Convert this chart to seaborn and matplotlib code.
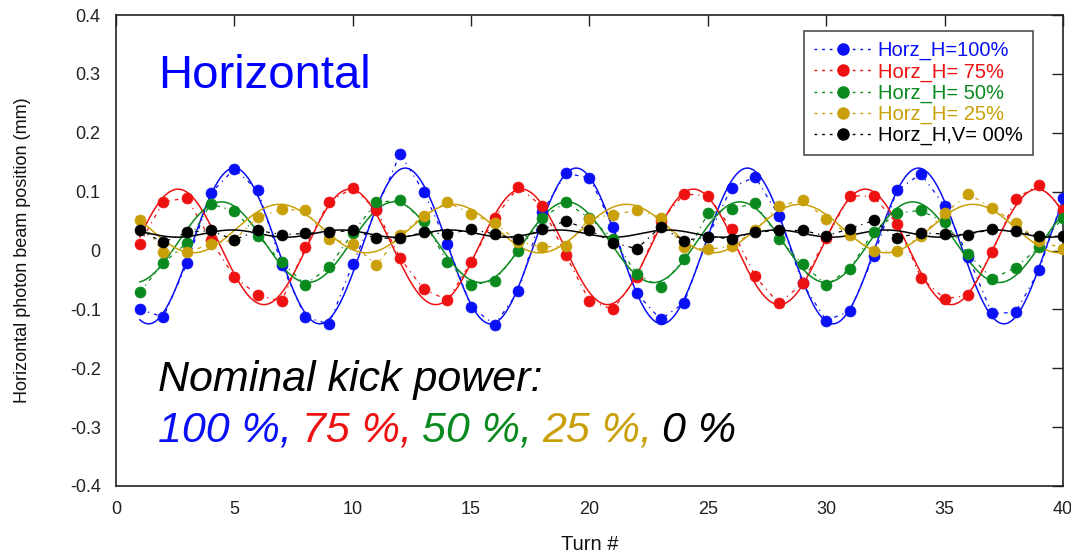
import numpy as np
import pandas as pd
import matplotlib
matplotlib.use("Agg")
import matplotlib.pyplot as plt
from matplotlib.lines import Line2D
import seaborn as sns

# Turn numbers and measured beam positions (mm) for each kick power
turns = list(range(1, 41))

horz_100 = [-0.100, -0.113, -0.022, 0.097, 0.139, 0.102, -0.025, -0.113, -0.125, -0.023,
            0.070, 0.164, 0.100, 0.011, -0.096, -0.126, -0.069, 0.065, 0.131, 0.124,
            0.040, -0.073, -0.117, -0.089, 0.023, 0.107, 0.125, 0.059, -0.056, -0.119,
            -0.103, -0.010, 0.103, 0.130, 0.076, -0.011, -0.107, -0.105, -0.033, 0.090]

horz_75 = [0.011, 0.083, 0.089, 0.018, -0.045, -0.076, -0.086, 0.006, 0.083, 0.106,
           0.069, -0.013, -0.066, -0.084, -0.020, 0.056, 0.108, 0.075, -0.008, -0.086,
           -0.100, -0.045, 0.050, 0.096, 0.093, 0.037, -0.044, -0.090, -0.056, 0.022,
           0.093, 0.092, 0.045, -0.046, -0.082, -0.076, -0.003, 0.088, 0.112, 0.069]

horz_50 = [-0.071, -0.021, 0.013, 0.079, 0.067, 0.025, -0.020, -0.058, -0.028, 0.030,
           0.082, 0.085, 0.050, -0.020, -0.059, -0.051, 0.000, 0.055, 0.082, 0.055,
           0.020, -0.040, -0.062, -0.014, 0.063, 0.071, 0.080, 0.020, -0.023, -0.058,
           -0.031, 0.032, 0.064, 0.068, 0.048, -0.006, -0.048, -0.029, 0.006, 0.056]

horz_25 = [0.052, -0.003, -0.003, 0.011, 0.018, 0.057, 0.070, 0.068, 0.020, 0.011,
           -0.025, 0.027, 0.059, 0.082, 0.062, 0.046, 0.015, 0.006, 0.008, 0.054,
           0.061, 0.068, 0.056, 0.006, 0.002, 0.007, 0.035, 0.076, 0.085, 0.054,
           0.026, -0.001, -0.001, 0.025, 0.063, 0.096, 0.073, 0.046, 0.017, 0.003]

horz_00 = [0.034, 0.014, 0.031, 0.034, 0.018, 0.034, 0.027, 0.029, 0.031, 0.034,
           0.021, 0.021, 0.031, 0.028, 0.036, 0.028, 0.019, 0.036, 0.050, 0.035,
           0.013, 0.003, 0.040, 0.017, 0.023, 0.020, 0.031, 0.034, 0.034, 0.025,
           0.037, 0.051, 0.022, 0.030, 0.028, 0.027, 0.036, 0.033, 0.025, 0.024]

series_labels = ["Horz_H=100%", "Horz_H= 75%", "Horz_H= 50%", "Horz_H= 25%", "Horz_H,V= 00%"]
series_values = [horz_100, horz_75, horz_50, horz_25, horz_00]
series_colors = ["#0a10f5", "#ee1111", "#0a8a1e", "#c9a00a", "#000000"]

power_labels = ["100 %,", "75 %,", "50 %,", "25 %,", "0 %"]

x_ticks = [0, 5, 10, 15, 20, 25, 30, 35, 40]
y_ticks = [-0.4, -0.3, -0.2, -0.1, 0, 0.1, 0.2, 0.3, 0.4]


def sine_fit(x, y, x_eval):
    """Least-squares fit of offset + A sin(2 pi q x) + B cos(2 pi q x)."""
    x = np.asarray(x, float)
    y = np.asarray(y, float)
    best = None
    for q in np.linspace(0.02, 0.5, 2401):
        M = np.column_stack([np.ones_like(x), np.sin(2 * np.pi * q * x), np.cos(2 * np.pi * q * x)])
        coef, *_ = np.linalg.lstsq(M, y, rcond=None)
        r = np.sum((M @ coef - y) ** 2)
        if best is None or r < best[0]:
            best = (r, q, coef)
    _, q, c = best
    return c[0] + c[1] * np.sin(2 * np.pi * q * x_eval) + c[2] * np.cos(2 * np.pi * q * x_eval)


sns.set_theme(style="white")
plt.rcParams["font.family"] = ["Liberation Sans", "DejaVu Sans"]

fig = plt.figure(figsize=(10.71, 5.57), dpi=100)
ax = fig.add_axes([0.1083, 0.1275, 0.8842, 0.8455])

x_fine = np.linspace(1, 40, 800)
handles = []
for label, vals, col in zip(series_labels, series_values, series_colors):
    df = pd.DataFrame({"turn": turns, "pos": vals})
    # fitted oscillation
    fit_df = pd.DataFrame({"turn": x_fine, "pos": sine_fit(turns, vals, x_fine)})
    sns.lineplot(data=fit_df, x="turn", y="pos", ax=ax, color=col, linewidth=1.1,
                 estimator=None, sort=True, legend=False)
    # measured points joined by a dotted line
    sns.lineplot(data=df, x="turn", y="pos", ax=ax, color=col, linewidth=0.9,
                 linestyle=(0, (3, 4, 1, 4)), estimator=None, legend=False)
    sns.scatterplot(data=df, x="turn", y="pos", ax=ax, color=col, s=62, marker="o",
                    edgecolor=col, linewidth=0.5, legend=False, zorder=5)
    handles.append(Line2D([0], [0], color=col, linestyle=(0, (2, 3.5)), linewidth=1.0,
                          marker="o", markersize=8, markeredgecolor=col))

ax.set_xlim(0, 40)
ax.set_ylim(-0.4, 0.4)
ax.set_xticks(x_ticks)
ax.set_yticks(y_ticks)
ax.set_xticklabels([str(t) for t in x_ticks])
ax.set_yticklabels(["-0.4", "-0.3", "-0.2", "-0.1", "0", "0.1", "0.2", "0.3", "0.4"])
ax.tick_params(direction="in", length=8, width=1.0, top=True, right=True,
               labelsize=13, colors="#222222", pad=11)
for s in ax.spines.values():
    s.set_color("#222222")
    s.set_linewidth(1.2)

ax.set_xlabel("Turn #", fontsize=14.5, color="#111111", labelpad=12)
ax.set_ylabel("Horizontal photon beam position (mm)", fontsize=13, color="#111111", labelpad=28)

leg = ax.legend(handles, series_labels, loc="upper right", bbox_to_anchor=(0.968, 0.966),
                fontsize=14.5, frameon=True, fancybox=False, handlelength=2.9,
                handletextpad=0.25, borderpad=0.5, labelspacing=0.1, borderaxespad=0)
leg.get_frame().set_edgecolor("#222222")
leg.get_frame().set_linewidth(1.2)
for txt, col in zip(leg.get_texts(), series_colors):
    txt.set_color(col)

ax.text(0.044, 0.87, "Horizontal", transform=ax.transAxes, fontsize=34,
        color="#0000ff", va="center", ha="left")
ax.text(0.044, 0.225, "Nominal kick power:", transform=ax.transAxes, fontsize=31,
        style="italic", color="black", va="center", ha="left")

# coloured list of kick powers on one line
x0 = 0.044
renderer = fig.canvas.get_renderer()
for lab, col in zip(power_labels, series_colors):
    t = ax.text(x0, 0.117, lab + " ", transform=ax.transAxes, fontsize=31,
                style="italic", color=col, va="center", ha="left")
    bb = t.get_window_extent(renderer=renderer).transformed(ax.transAxes.inverted())
    x0 = bb.x1 - 0.002

fig.savefig("out.png", dpi=100)
